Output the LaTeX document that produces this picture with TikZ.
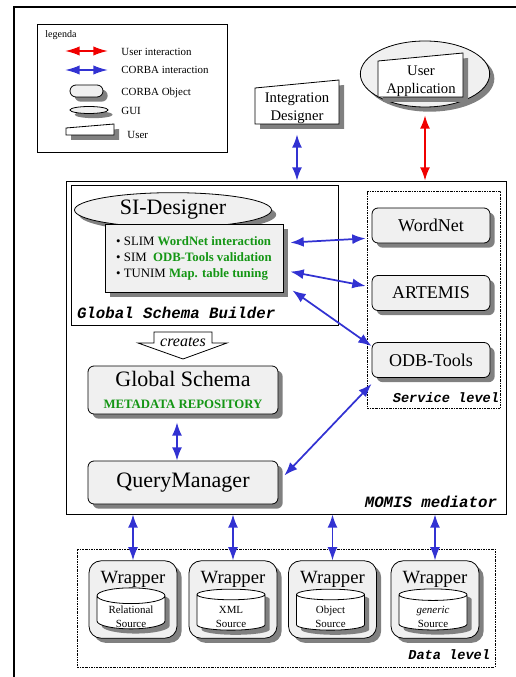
\documentclass[tikz,border=0pt]{standalone}
\usepackage{fontspec}
\setmainfont{Liberation Serif}
\setmonofont{Liberation Mono}
\usetikzlibrary{shapes.geometric}
\usetikzlibrary{shadows}
\usetikzlibrary{arrows.meta}
\usetikzlibrary{calc}

\definecolor{corbablue}{RGB}{50,50,210}
\definecolor{userred}{RGB}{240,0,0}
\definecolor{repogreen}{RGB}{20,150,20}
\definecolor{boxfill}{RGB}{240,240,240}
\definecolor{shadowgray}{RGB}{128,128,128}

% source label sitting low in the cylinder
\newcommand{\srclabel}[1]{\raisebox{-11.5pt}[0pt][0pt]{\begin{tabular}[b]{@{}c@{}}
      #1\\Source\end{tabular}}}

\tikzset{
  boxshadow/.style = {drop shadow = {shadow xshift = 3.5pt,
      shadow yshift = -3.5pt, fill = shadowgray, opacity = 1}},
  corbaobj/.style = {draw, rounded corners = 4.5pt, fill = boxfill,
    boxshadow, inner sep = 0pt},
  gui/.style = {draw, ellipse, fill = boxfill, boxshadow, inner sep = 0pt},
  wrapperbox/.style = {draw, rounded corners = 9pt, fill = boxfill,
    boxshadow, minimum width = 66pt, minimum height = 57.75pt,
    text height = 15pt, text depth = 39pt, inner ysep = 2pt,
    font = \fontsize{14}{16}\selectfont},
  sourcedb/.style = {draw, cylinder, shape border rotate = 90,
    aspect = .35, fill = white, boxshadow, minimum width = 51pt,
    minimum height = 30.75pt, inner sep = 0pt,
    font = \fontsize{8.2}{10.5}\selectfont},
  usertext/.style = {align = center, inner sep = 0pt,
    font = \fontsize{11}{13.5}\selectfont},
  corba/.style = {{Latex[length = 10pt, width = 7.5pt]}-{Latex[length = 10pt,
      width = 7.5pt]}, line width = 1.3pt, corbablue},
  userarrow/.style = {{Latex[length = 10pt, width = 7.5pt]}-{Latex[length =
      10pt, width = 7.5pt]}, line width = 1.3pt, userred},
  legendarrow/.style = {{Latex[length = 11pt, width = 7pt]}-{Latex[length =
      11pt, width = 7pt]}},
  levelbox/.style = {draw, dash pattern = on 1.5pt off .8pt on .4pt off .8pt,
    inner sep = 0pt},
  leveltext/.style = {inner sep = 0pt,
    font = \ttfamily\bfseries\itshape\fontsize{10.2}{12}\selectfont},
  legendtext/.style = {anchor = west, inner sep = 0pt,
    font = \fontsize{8.2}{10}\selectfont}
}

\begin{document}
\begin{tikzpicture}[x = .75pt, y = -.75pt, line width = .6pt]
  \useasboundingbox (0, 0) rectangle (516, 677);
  \draw[line width = 1.6pt] (14, 677) -- (14, 7) -- (516, 7);

  % legenda
  \draw (37, 24) rectangle (227, 152);
  \node[legendtext, font = \fontsize{7.5}{9}\selectfont] (lgtitle) at (45, 35)
  {legenda};
  \draw[userarrow, legendarrow] (65, 51) -- (108, 51);
  \node[legendtext] (lguser) at (121, 52) {User interaction};
  \draw[corba, legendarrow] (65, 70) -- (108, 70);
  \node[legendtext] (lgcorba) at (121, 70) {CORBA interaction};
  \node[corbaobj, minimum width = 24.75pt, minimum height = 9pt] (lgobj) at
  (86.5, 91) {};
  \node[legendtext] (lgobjtext) at (121, 93) {CORBA Object};
  \node[gui, minimum width = 28.5pt, minimum height = 5.25pt] (lggui) at
  (89, 110) {};
  \node[legendtext] (lgguitext) at (121, 111) {GUI};
  \fill[shadowgray] (71, 133) -- (119, 129) -- (119, 140) -- (71, 140) --
  cycle;
  \filldraw[fill = white] (66, 128) -- (114, 124) -- (114, 135) -- (66, 135) --
  cycle;
  \node[legendtext] (lgusertext) at (127, 135) {User};

  % users
  \fill[shadowgray] (260, 93) -- (344, 85) -- (344, 129) -- (260, 129) --
  cycle;
  \filldraw[fill = white] (255, 88) -- (339, 80) -- (339, 124) -- (255, 124) --
  cycle;
  \node[usertext, minimum width = 63pt, minimum height = 27pt] (intdes) at
  (297, 108) {Integration\\Designer};

  \node[gui, minimum width = 97pt, minimum height = 49.5pt] (uagui) at
  (425, 74) {};
  \fill[shadowgray] (383, 66) -- (468, 58) -- (468, 102) -- (383, 102) --
  cycle;
  \filldraw[fill = white] (378, 61) -- (463, 53) -- (463, 97) -- (378, 97) --
  cycle;
  \node[usertext] (userapp) at (421, 81) {User\\Application};

  % mediator
  \node[draw, minimum width = 330pt, minimum height = 249.75pt] (momis) at
  (286, 347.5) {};
  \node[leveltext, anchor = base east, font = \ttfamily\bfseries\itshape
  \fontsize{11.8}{14}\selectfont] (momistext) at ($(momis.south east) +
  (-9, -7)$) {MOMIS mediator};

  \draw[corba, shorten <= 6pt] (intdes.south) -- (intdes.south |- momis.north);
  \draw[userarrow, shorten <= 6pt] (uagui.south) -- (uagui.south |-
  momis.north);

  \node[draw, minimum width = 200.25pt, minimum height = 105pt] (gsb) at
  (204.5, 255) {};
  \node[leveltext, anchor = base west, font = \ttfamily\bfseries\itshape
  \fontsize{11.8}{14}\selectfont] (gsbtext) at ($(gsb.south west) + (6, -7)$)
  {Global Schema Builder};

  \node[gui, minimum width = 147.75pt, minimum height = 26pt, font =
  \fontsize{16.5}{18}\selectfont] (sides) at (173, 210) {SI-Designer};
  \node[draw, fill = boxfill, boxshadow, minimum width = 133.5pt, minimum
  height = 51pt, inner xsep = 3pt, align = left, font =
  \fontsize{9.6}{12}\selectfont] (tools) at (194, 258)
  {• SLIM \textcolor{repogreen}{\bfseries WordNet interaction}\\
    • SIM\ \ \textcolor{repogreen}{\bfseries ODB-Tools validation}\\
    • TUNIM \textcolor{repogreen}{\bfseries Map. table tuning}};

  % service level
  \node[levelbox, minimum width = 99.75pt, minimum height = 162.75pt]
  (service) at (433.5, 299.5) {};
  \node[leveltext, anchor = base east] (servicetext) at ($(service.south east)
  + (-1, -6)$) {Service level};
  \foreach \name/\label/\y in {wordnet/WordNet/225.5, artemis/ARTEMIS/293,
    odb/ODB-Tools/360}
  \node[corbaobj, minimum width = 88.5pt, minimum height = 26.25pt, font =
  \fontsize{13.5}{15}\selectfont] (\name) at (431, \y) {\label};

  \draw[corba] ($(tools.north east) + (7, 19)$) -- ($(wordnet.south west) +
  (-6, -5)$);
  \draw[corba] ($(tools.north east) + (7, 48)$) -- ($(artemis.west) +
  (-6, -7)$);
  \draw[corba] ($(tools.south east) + (9, -2)$) -- ($(odb.north west) +
  (0, 4)$);

  % creates
  \filldraw[fill = white] (154, 332) -- (212, 332) -- (212, 343) -- (227, 343)
  -- (183, 359) -- (138, 343) -- (154, 343) -- cycle;
  \node[inner sep = 0pt, font = \itshape\fontsize{12}{14}\selectfont]
  (creates) at (183, 342) {creates};

  \node[corbaobj, minimum width = 142.5pt, minimum height = 36pt, align =
  center, font = \fontsize{16.5}{17}\selectfont] (gschema) at (183, 390)
  {Global Schema\\[-1pt]{\fontsize{9.6}{11}\selectfont\bfseries
      \color{repogreen}METADATA REPOSITORY}};
  \node[corbaobj, minimum width = 142.5pt, minimum height = 32.25pt, font =
  \fontsize{16.5}{18}\selectfont] (qm) at (183, 482.5) {QueryManager};

  \draw[corba, shorten <= 6pt] ($(gschema.south) + (-6, 0)$) -- ($(qm.north)
  + (-6, 0)$);
  \draw[corba] ($(odb.south west) + (0, 6)$) -- ($(qm.east) + (6, -7)$);

  % data level
  \node[levelbox, minimum width = 313.5pt, minimum height = 88.5pt] (data) at
  (286, 608) {};
  \node[leveltext, anchor = base east] (datatext) at ($(data.south east) +
  (-5, -8)$) {Data level};
  \foreach \name/\x/\src in {wrel/133/Relational, wxml/233/XML,
    wobj/332.5/Object, wgen/435/\textit{generic}} {
    \node[wrapperbox] (\name) at (\x, 599.5) {Wrapper};
    \node[sourcedb] (\name db) at ($(\name.center) + (-2, 13)$)
    {\srclabel{\src}};
    \draw[corba] (\name.north |- momis.south) -- (\name.north);
  }
\end{tikzpicture}
\end{document}
